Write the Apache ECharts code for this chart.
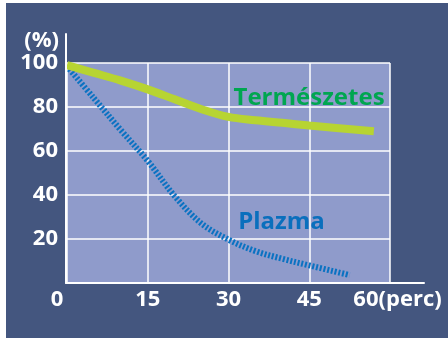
<!DOCTYPE html>
<html>
<head>
<meta charset="utf-8">
<script src="https://cdn.jsdelivr.net/npm/echarts@6/dist/echarts.min.js"></script>
<style>
  html, body { margin: 0; padding: 0; background: #ffffff; }
  #c { position: absolute; left: 6px; top: 3px; width: 442px; height: 335px; }
</style>
</head>
<body>
<div id="c"></div>
<script>
// Remaining activity (%) over time (minutes)
const naturalMin = [0, 5, 10, 15, 20, 25, 30, 35, 40, 45, 50, 57];
const naturalPct = [99, 95.5, 92, 88, 83.5, 79, 75.5, 74, 72.8, 71.6, 70.5, 69];
const plasmaMin = [0, 5, 10, 15, 20, 25, 30, 35, 40, 45, 52.5];
const plasmaPct = [98.5, 84, 69.5, 55.5, 39.5, 27, 19.7, 14.5, 11, 8, 3.6];

const seriesNames = ['Természetes', 'Plazma'];
const xTicks = [0, 15, 30, 45, 60];
const xTickText = ['0', '15', '30', '45', '60(perc)'];
const yTicks = [20, 40, 60, 80, 100];
const yUnit = '(%)';

const FONT = "'Open Sans', 'DejaVu Sans', sans-serif";
const base = { color: '#ffffff', fontFamily: FONT, fontWeight: 'bold', fontSize: 22 };

const pairs = (xs, ys) => xs.map((x, i) => [x, ys[i]]);

const chart = echarts.init(document.getElementById('c'), null, { renderer: 'canvas' });

chart.setOption({
  animation: false,
  backgroundColor: '#44567f',
  grid: [
    // outer frame: axis lines that run past the plotting area
    { left: 60, right: 24, top: 31, bottom: 55, show: false },
    // plotting area
    { left: 61, right: 58, top: 60, bottom: 55, show: true,
      backgroundColor: '#8f9bcb', borderWidth: 0 }
  ],
  xAxis: [
    { gridIndex: 0, type: 'value', min: 0, max: 1, z: 5,
      axisLine: { show: true, lineStyle: { color: '#ffffff', width: 2 } },
      axisTick: { show: false }, axisLabel: { show: false }, splitLine: { show: false } },
    { gridIndex: 1, type: 'value', min: 0, max: 60, interval: 15,
      axisLine: { show: false }, axisTick: { show: false },
      splitLine: { show: true, lineStyle: { color: '#ffffff', width: 1.5 } },
      axisLabel: {
        margin: 6,
        formatter: v => {
          const i = xTicks.indexOf(v);
          if (i < 0) return '';
          if (i === 0) return '{l|' + xTickText[i] + '}';
          if (i === xTicks.length - 1) return '{r|' + xTickText[i] + '}';
          return '{a|' + xTickText[i] + '}';
        },
        rich: {
          a: Object.assign({}, base),
          l: Object.assign({}, base, { padding: [0, 20, 0, 0] }),
          r: Object.assign({}, base, { padding: [0, 0, 0, 15] })
        }
      } }
  ],
  yAxis: [
    { gridIndex: 0, type: 'value', min: 0, max: 1, z: 5,
      axisLine: { show: true, lineStyle: { color: '#ffffff', width: 2 } },
      axisTick: { show: false }, axisLabel: { show: false }, splitLine: { show: false } },
    { gridIndex: 1, type: 'value', min: 0, max: 100, interval: 20,
      axisLine: { show: false }, axisTick: { show: false },
      splitLine: { show: true, lineStyle: { color: '#ffffff', width: 1.5 } },
      axisLabel: Object.assign({}, base, {
        margin: 9,
        formatter: v => (yTicks.indexOf(v) >= 0 ? String(v) : '')
      }),
      name: yUnit,
      nameLocation: 'end',
      nameGap: 19,
      nameTextStyle: Object.assign({}, base, { align: 'right', verticalAlign: 'middle', padding: [0, 8, 0, 0] })
    }
  ],
  series: [
    {
      name: seriesNames[1],
      type: 'line',
      xAxisIndex: 1, yAxisIndex: 1,
      data: pairs(plasmaMin, plasmaPct),
      smooth: 0.35,
      showSymbol: false,
      clip: false,
      lineStyle: { color: '#0a72c2', width: 6, type: [2, 1.8], cap: 'butt' },
      markPoint: {
        symbol: 'rect', symbolSize: 1,
        itemStyle: { color: 'rgba(0,0,0,0)' },
        label: { show: true, position: 'inside', formatter: seriesNames[1],
                 color: '#0a6fbd', fontFamily: FONT, fontWeight: 'bold', fontSize: 24 },
        data: [{ coord: [39.85, 27.6] }]
      }
    },
    {
      name: seriesNames[0],
      type: 'line',
      xAxisIndex: 1, yAxisIndex: 1,
      data: pairs(naturalMin, naturalPct),
      smooth: 0.35,
      showSymbol: false,
      clip: false,
      lineStyle: { color: '#b7d432', width: 8, cap: 'butt' },
      markPoint: {
        symbol: 'rect', symbolSize: 1,
        itemStyle: { color: 'rgba(0,0,0,0)' },
        label: { show: true, position: 'inside', formatter: seriesNames[0],
                 color: '#00a650', fontFamily: FONT, fontWeight: 'bold', fontSize: 24 },
        data: [{ coord: [44.96, 84.1] }]
      }
    }
  ]
});
</script>
</body>
</html>
